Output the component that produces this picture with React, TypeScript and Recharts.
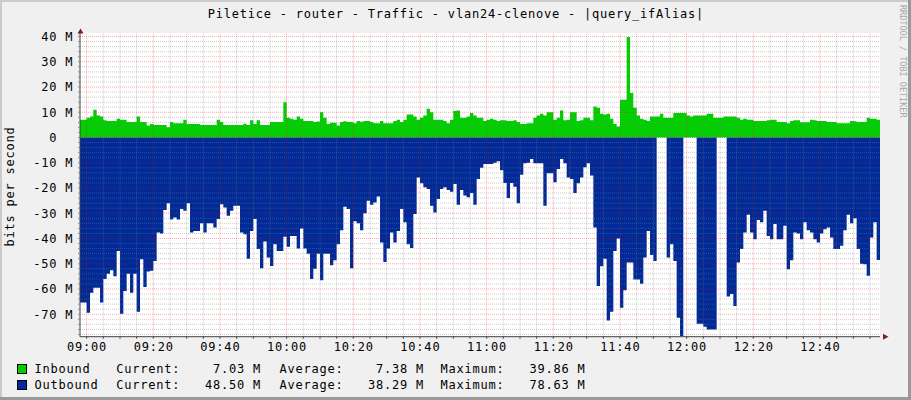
import React from 'react';
import { ComposedChart, Area, XAxis, YAxis, ReferenceLine, CartesianGrid } from 'recharts';

// One value per minute, starting at 08:58 (Mbit/s)
const inbound = [
  7.0, 7.0, 7.8, 8.3, 11, 8.7, 8.3, 6.8, 6.5, 6.5,
  6.5, 7.4, 7.0, 7.0, 6.1, 6.1, 6.1, 8.3, 6.1, 6.1,
  4.8, 5.4, 5.0, 5.0, 5.0, 5.0, 4.1, 6.1, 5.7, 5.7,
  5.7, 7.0, 5.4, 5.4, 5.4, 5.4, 5.0, 5.0, 5.0, 5.0,
  5.0, 7.0, 6.1, 5.0, 5.0, 5.0, 5.0, 5.0, 5.0, 5.5,
  5.0, 6.8, 5.4, 6.8, 5.0, 5.0, 5.0, 6.1, 6.1, 6.1,
  6.1, 14, 7.8, 7.4, 7.0, 8.3, 7.4, 6.5, 6.5, 6.5,
  6.1, 6.3, 10, 7.8, 5.4, 5.8, 5.8, 4.8, 6.1, 6.4,
  6.1, 6.1, 5.7, 6.5, 6.2, 6.5, 6.5, 6.1, 5.7, 5.7,
  6.5, 5.7, 5.7, 5.7, 6.5, 7.0, 6.1, 7.0, 9.1, 9.1,
  8.3, 7.0, 7.8, 8.7, 11.4, 10, 7.0, 7.0, 7.0, 6.5,
  5.7, 7.0, 10.5, 10.7, 7.8, 7.8, 8.3, 9.7, 8.7, 7.8,
  7.8, 6.5, 7.0, 7.4, 7.0, 6.5, 6.8, 6.8, 6.5, 6.5,
  6.8, 6.1, 5.4, 5.4, 5.7, 5.7, 7.8, 8.7, 9.4, 8.7,
  10, 10, 7.0, 7.8, 10.7, 6.8, 7.0, 10, 10, 6.5,
  6.8, 7.8, 7.8, 6.8, 12.3, 11.8, 9.4, 9.1, 9.4, 7.4,
  5.4, 4.4, 15, 15, 39.86, 17.6, 11.8, 8.7, 7.4, 7.0,
  6.5, 8.3, 8.3, 8.3, 9.4, 7.8, 7.8, 7.8, 9.7, 9.7,
  9.7, 9.7, 8.7, 8.3, 8.7, 8.7, 8.7, 8.7, 9.4, 9.4,
  7.8, 7.8, 7.8, 8.3, 8.3, 8.3, 8.3, 7.8, 7.0, 7.4,
  7.0, 7.0, 6.5, 6.5, 6.5, 6.5, 6.8, 7.0, 7.0, 6.1,
  6.1, 6.1, 5.7, 6.5, 6.8, 6.8, 6.0, 6.0, 6.0, 7.0,
  6.8, 6.5, 6.5, 6.5, 6.1, 6.1, 6.1, 5.7, 5.7, 5.7,
  5.7, 6.5, 6.4, 6.1, 6.1, 6.1, 7.8, 7.4, 7.4, 7.03,
];

const outbound = [
  65.4, 65.4, 69.4, 61.5, 59.5, 59.5, 65.4, 56, 54, 52.6,
  55, 45, 69.8, 60.8, 54, 61.5, 54, 69, 48.2, 59.2,
  53.1, 52.8, 48.9, 37.6, 38, 28.7, 26, 32.5, 31.7, 32.5,
  28.3, 29, 26, 37.6, 37, 37, 34, 37.6, 34, 34,
  35.6, 32.3, 26.4, 27.7, 31, 29, 27, 27, 37.6, 38.3,
  48, 37, 32.3, 44.2, 51.8, 41.2, 47.5, 50.9, 42.3, 45,
  45, 39.3, 43.3, 39, 39, 44, 36, 44, 46, 56,
  52, 46, 56.5, 46, 46, 50.6, 48.6, 42.3, 36.7, 27.4,
  28.3, 51.8, 33.2, 34, 36.7, 30, 25, 26.6, 25.7, 23.4,
  41.6, 49.3, 44, 37.6, 41.6, 37, 28.3, 33.6, 42.3, 43.8,
  30.3, 15.8, 18.1, 19.7, 20.4, 27, 29.7, 24.4, 20.4, 19.7,
  20.8, 21.5, 18.4, 26.6, 20.8, 23, 23.7, 22, 26.6, 16.4,
  12, 10.5, 10.5, 10.5, 10, 9.4, 13, 18, 24, 18,
  19.5, 26, 14.7, 10.2, 10, 8.5, 10.2, 10.2, 10.2, 27,
  14.2, 14.2, 17.7, 12.5, 8.5, 10.2, 15.8, 16.4, 22, 18.1,
  15.8, 11.8, 10.2, 15, 35.6, 58.8, 51, 48, 72.5, 69,
  45, 40, 67.4, 60.5, 49.5, 49.5, 56.2, 56.2, 57.9, 47.5,
  37, 46.5, 48.9, 0, 0, 0, 47.5, 42.3, 48.9, 71.4,
  78.63, 0, 0, 0, 0, 73.8, 73.8, 75, 76, 76,
  76, 0, 0, 0, 63, 62, 66.7, 49.5, 44.2, 37.6,
  30.6, 37.6, 40.3, 32.7, 33.6, 29, 39, 40.3, 34.3, 40.3,
  40.3, 35, 52.2, 48.6, 37.6, 38, 40.3, 33.6, 36.7, 37.6,
  40.3, 41.6, 38, 36.3, 35.6, 39.6, 44.2, 44.2, 42.9, 36.7,
  30.6, 34, 32, 44.2, 50, 50.2, 54.8, 39.6, 33.6, 48.5,
];

const xTickLabels = ['09:00', '09:20', '09:40', '10:00', '10:20', '10:40', '11:00', '11:20', '11:40', '12:00', '12:20', '12:40'];
const xTickMinutes = [2, 22, 42, 62, 82, 102, 122, 142, 162, 182, 202, 222];
const yTickValues = [40, 30, 20, 10, 0, -10, -20, -30, -40, -50, -60, -70];

const legendRows = [
  { name: 'Inbound', color: '#00CF00', current: '7.03 M', average: '7.38 M', maximum: '39.86 M' },
  { name: 'Outbound', color: '#002A97', current: '48.50 M', average: '38.29 M', maximum: '78.63 M' },
];

const title = 'Piletice - router - Traffic - vlan24-clenove - |query_ifAlias|';

const FONT = '"DejaVu Sans Mono", monospace';
const LS = 0.78;

const data = inbound.map((v, i) => ({ t: i, inb: v, out: -outbound[i] }));
data.push({ t: inbound.length, inb: inbound[inbound.length - 1], out: -outbound[outbound.length - 1] });

const hMinor: number[] = [];
for (let v = -78; v <= 40; v += 2) if (v % 10 !== 0) hMinor.push(v);
const hMajor = yTickValues;
const vMinor: number[] = [];
for (let t = 2; t < 240; t += 5) if (!xTickMinutes.includes(t)) vMinor.push(t);
const yAllTicks: number[] = [];
for (let v = -78; v <= 40; v += 2) yAllTicks.push(v);
const xAllTicks: number[] = [];
for (let t = 2; t < 240; t += 5) xAllTicks.push(t);

const YTick = (props: any) => {
  const { y, payload } = props;
  const v = payload.value;
  if (!yTickValues.includes(v)) return <g />;
  const label = v === 0 ? '0' : `${v} M`;
  const xEnd = v === 0 ? 73.3 - 16 : 73.3;
  return (
    <text x={xEnd} y={y + 4.4} textAnchor="end" fontFamily={FONT} fontSize={12} letterSpacing={LS} fill="#000">
      {label}
    </text>
  );
};

const XTick = (props: any) => {
  const { x, payload } = props;
  const idx = xTickMinutes.indexOf(payload.value);
  if (idx < 0) return <g />;
  return (
    <text x={x + LS / 2} y={351} textAnchor="middle" fontFamily={FONT} fontSize={12} letterSpacing={LS} fill="#000">
      {xTickLabels[idx]}
    </text>
  );
};

const gridGray = { stroke: '#808080', strokeOpacity: 0.4, strokeDasharray: '1 1', strokeWidth: 1 };
const gridRed = { stroke: '#FF0000', strokeOpacity: 0.35, strokeDasharray: '1 1', strokeWidth: 1 };

export default function App() {
  const txt = { fontFamily: FONT, fontSize: 12, letterSpacing: LS, fill: '#000' } as const;
  return (
    <div style={{ position: 'absolute', left: 0, top: 0, width: 911, height: 400, background: '#F0F0F0', overflow: 'hidden' }}>
      <ComposedChart width={911} height={400} data={data} margin={{ top: 33, right: 31, bottom: 0, left: 0 }}>
        <CartesianGrid horizontal={false} vertical={false} fill="#FFFFFF" stroke="none" />
        <XAxis
          dataKey="t"
          type="number"
          domain={[0, 240]}
          allowDataOverflow
          ticks={xAllTicks}
          interval={0}
          height={63.3}
          tickSize={2}
          tickLine={{ stroke: '#404040' }}
          axisLine={{ stroke: '#404040' }}
          tick={<XTick />}
        />
        <YAxis
          type="number"
          domain={[-78.9, 41.4]}
          allowDataOverflow
          ticks={yAllTicks}
          interval={0}
          width={80}
          tickSize={2}
          tickLine={{ stroke: '#909090' }}
          axisLine={{ stroke: '#404040' }}
          tick={<YTick />}
        />
        <Area
          type="stepAfter"
          dataKey="inb"
          stroke="none"
          fill="#00CF00"
          fillOpacity={1}
          baseValue={0}
          isAnimationActive={false}
          dot={false}
          activeDot={false}
        />
        <Area
          type="stepAfter"
          dataKey="out"
          stroke="none"
          fill="#002A97"
          fillOpacity={1}
          baseValue={0}
          isAnimationActive={false}
          dot={false}
          activeDot={false}
        />
        {hMinor.map((v) => (
          <ReferenceLine key={'hm' + v} y={v} {...gridGray} />
        ))}
        {vMinor.map((t) => (
          <ReferenceLine key={'vm' + t} x={t} {...gridGray} />
        ))}
        {hMajor.map((v) => (
          <ReferenceLine key={'hM' + v} y={v} {...gridRed} />
        ))}
        {xTickMinutes.map((t) => (
          <ReferenceLine key={'vM' + t} x={t} {...gridRed} />
        ))}
      </ComposedChart>
      <svg width={911} height={400} style={{ position: 'absolute', left: 0, top: 0, pointerEvents: 'none' }}>
        {/* frame shading */}
        <rect x={0} y={0} width={911} height={2} fill="#CBCBCB" />
        <rect x={0} y={0} width={2} height={400} fill="#CBCBCB" />
        <rect x={0} y={397} width={911} height={3} fill="#999999" />
        <rect x={908} y={0} width={3} height={400} fill="#999999" />
        {/* axis arrows */}
        <polygon points="77.5,33.5 83.5,33.5 80.5,28.5" fill="#7F1F1F" />
        <polygon points="883,333.7 883,339.7 888.5,336.7" fill="#7F1F1F" />
        {/* title */}
        <text x={455.5 + LS / 2} y={18} textAnchor="middle" {...txt}>{title}</text>
        {/* y label */}
        <text x={13.5} y={186.5} textAnchor="middle" transform="rotate(-90 13.5 186.5)" {...txt}>bits per second</text>
        {/* credits */}
        <text x={899.5} y={5} transform="rotate(90 899.5 5)" fontFamily={FONT} fontSize={8.5} fill="#A8A8A8">RRDTOOL / TOBI OETIKER</text>
        {/* legend */}
        {legendRows.map((r, i) => {
          const by = 372.5 + i * 16;
          return (
            <g key={r.name}>
              <rect x={17.5} y={364.5 + i * 16} width={9} height={9} fill={r.color} stroke="#000" strokeWidth={1} />
              <text x={34.5} y={by} {...txt}>{r.name}</text>
              <text x={116.2} y={by} {...txt}>Current:</text>
              <text x={260.3 + LS} y={by} textAnchor="end" {...txt}>{r.current}</text>
              <text x={279.5} y={by} {...txt}>Average:</text>
              <text x={423.2 + LS} y={by} textAnchor="end" {...txt}>{r.average}</text>
              <text x={440.5} y={by} {...txt}>Maximum:</text>
              <text x={584.8 + LS} y={by} textAnchor="end" {...txt}>{r.maximum}</text>
            </g>
          );
        })}
      </svg>
    </div>
  );
}
